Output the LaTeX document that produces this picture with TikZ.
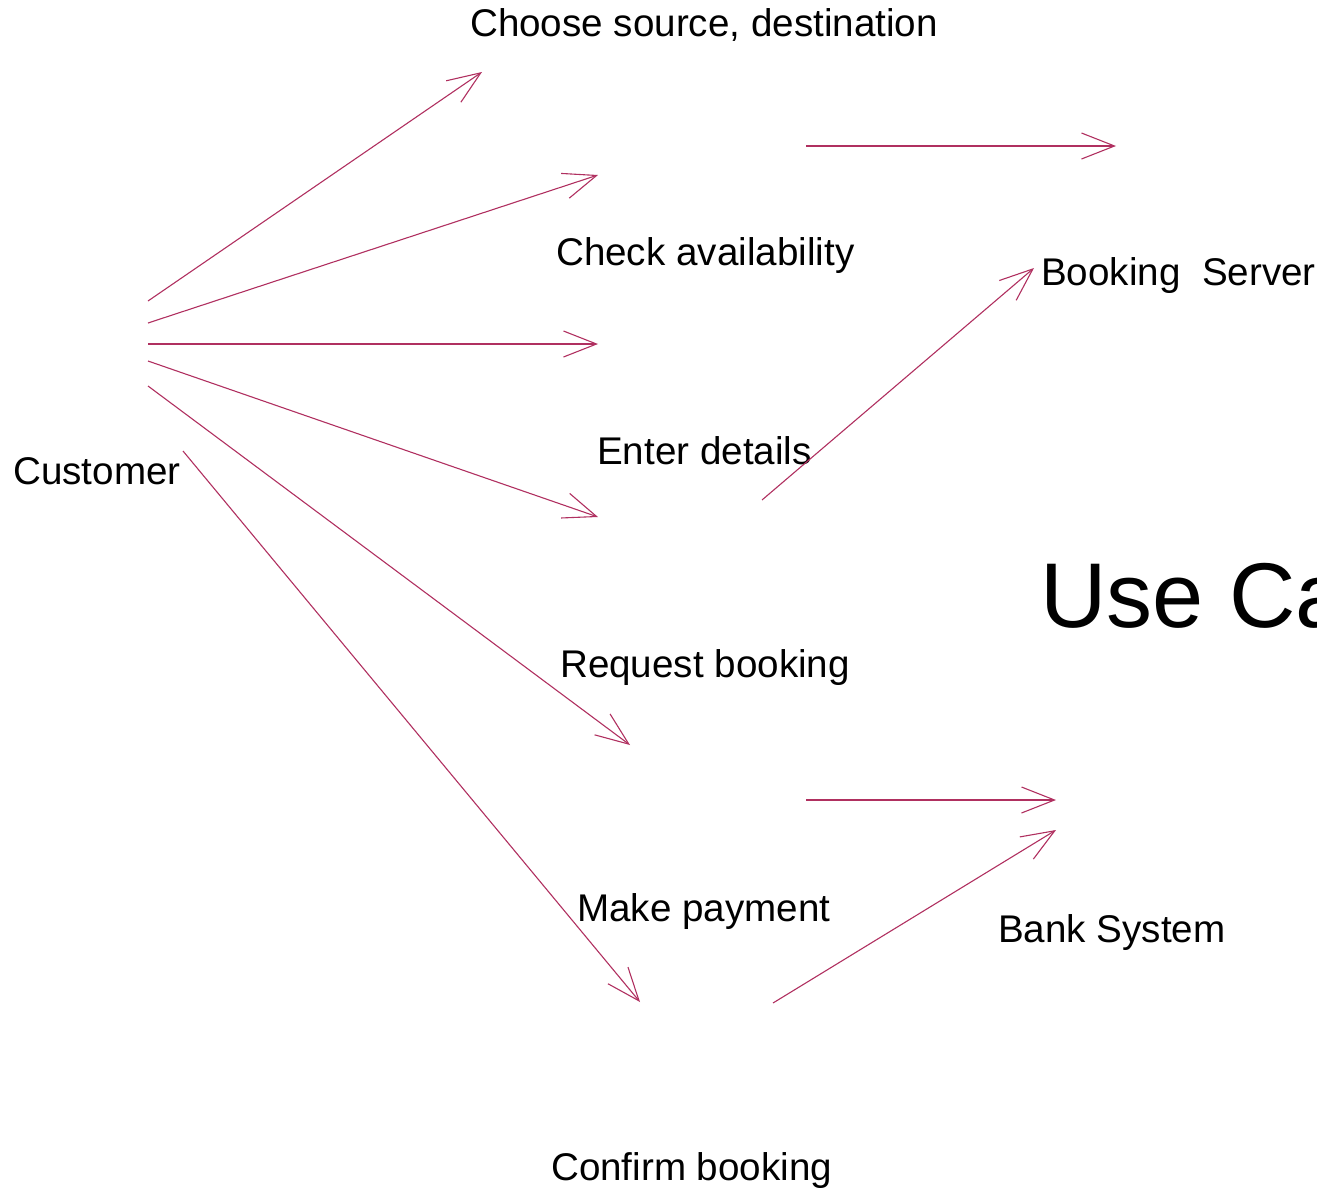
\documentclass[tikz,border=0pt]{standalone}
\usepackage{fontspec}
\setmainfont{Liberation Sans}
\usetikzlibrary{arrows.meta}
\definecolor{linkred}{RGB}{176,48,96}
\tikzset{
  label/.style={anchor=base west, inner sep=0pt, font=\fontsize{38.6}{46}\selectfont},
  link/.style={draw=linkred, line width=1.1pt, -{Straight Barb[length=33pt,width=26pt,line width=1.1pt]}}
}
\begin{document}
\begin{tikzpicture}[x=1pt,y=-1pt]
        \useasboundingbox (0,0) rectangle (1317,1189);
        \clip (0,0) rectangle (1317,1189);

        %labels
        \node[label] (choose) at (470,36) {Choose source, destination};
        \node[label] (check) at (556,265) {Check availability};
        \node[label] (server) at (1041,285) {Booking\ \ Server};
        \node[label] (enter) at (597,464) {Enter details};
        \node[label] (customer) at (13,484) {Customer};
        \node[label] (request) at (560,677) {Request booking};
        \node[label] (payment) at (577,921) {Make payment};
        \node[label] (bank) at (998,942) {Bank System};
        \node[label] (confirm) at (551,1180) {Confirm booking};
        \node[anchor=base west, inner sep=0pt, font=\fontsize{92}{104}\selectfont] (title) at (1040,627) {Use Case};

        %arrow ends
        \coordinate (c1) at (148,301);  \coordinate (e1) at (482,72);
        \coordinate (c2) at (148,323);  \coordinate (e2) at (598,175);
        \coordinate (c3) at (148,344);  \coordinate (e3) at (598,344);
        \coordinate (c4) at (148,361);  \coordinate (e4) at (598,517);
        \coordinate (c5) at (148,386);  \coordinate (e5) at (630,745);
        \coordinate (c6) at (183,451);  \coordinate (e6) at (640,1002);
        \coordinate (s1) at (806,146);  \coordinate (t1) at (1116,146);
        \coordinate (s2) at (762,500);  \coordinate (t2) at (1034,268);
        \coordinate (s3) at (806,800);  \coordinate (t3) at (1056,800);
        \coordinate (s4) at (773,1003); \coordinate (t4) at (1056,830);

        %customer side
        \foreach \i in {1,...,6}
            \draw[link] (c\i) -- (e\i);

        %system side
        \foreach \i in {1,...,4}
            \draw[link] (s\i) -- (t\i);

    \end{tikzpicture}
\end{document}
